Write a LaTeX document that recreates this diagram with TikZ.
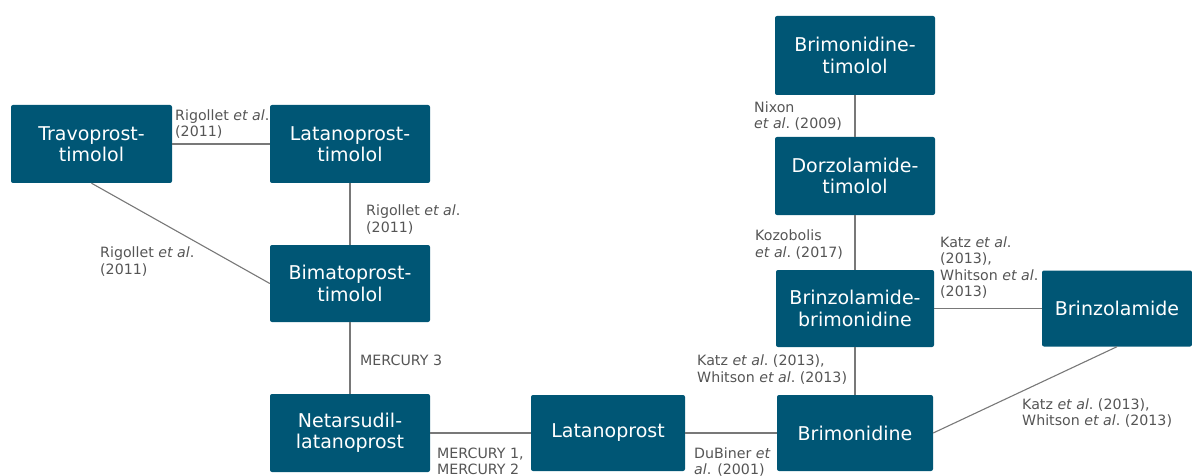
\documentclass[tikz,border=0pt]{standalone}
\usepackage{fontspec}
\setmainfont{DejaVu Sans}
\begin{document}
\definecolor{boxblue}{RGB}{0,86,117}
\definecolor{linkgray}{RGB}{120,120,120}
\definecolor{labgray}{RGB}{85,85,85}
\begin{tikzpicture}[x=1pt,y=-1pt,
  drug/.style={fill=boxblue,draw=none,rounded corners=2pt,text=white,
    align=center,inner sep=0pt,font=\fontsize{19}{21.5}\selectfont},
  link/.style={draw=linkgray,line width=1.1pt},
  study/.style={anchor=base west,inner sep=0pt,align=left,text=labgray,
    font=\fontsize{14.2}{16.4}\selectfont}]
\useasboundingbox (0,0) rectangle (1192,476);
\newcommand{\etal}{\textit{et al}.}
% drug boxes
\node[drug,minimum width=161pt,minimum height=78pt] (trav)  at (91.5,144) {Travoprost-\\timolol};
\node[drug,minimum width=160pt,minimum height=78pt] (latt)  at (350,144) {Latanoprost-\\timolol};
\node[drug,minimum width=160pt,minimum height=77pt] (bimt)  at (350,283.5) {Bimatoprost-\\timolol};
\node[drug,minimum width=160pt,minimum height=78pt] (netl)  at (350,433) {Netarsudil-\\latanoprost};
\node[drug,minimum width=154pt,minimum height=76pt] (lat)   at (608,433) {Latanoprost};
\node[drug,minimum width=156pt,minimum height=76pt] (brim)  at (855,433) {Brimonidine};
\node[drug,minimum width=160pt,minimum height=79pt] (brimt) at (855,55.5) {Brimonidine-\\timolol};
\node[drug,minimum width=160pt,minimum height=78pt] (dorz)  at (855,176) {Dorzolamide-\\timolol};
\node[drug,minimum width=158pt,minimum height=77pt] (brzb)  at (855,308.5) {Brinzolamide-\\brimonidine};
\node[drug,minimum width=150pt,minimum height=76pt] (brz)   at (1117,308.5) {Brinzolamide};
% comparisons
\draw[link] (trav.east) -- (latt.west);
\draw[link] (trav.south) -- (bimt.west);
\draw[link] (latt.south) -- (bimt.north);
\draw[link] (bimt.south) -- (netl.north);
\draw[link] (netl.east) -- (lat.west);
\draw[link] (lat.east) -- (brim.west);
\draw[link] (brim.north) -- (brzb.south);
\draw[link] (brim.east) -- (brz.south);
\draw[link] (brzb.east) -- (brz.west);
\draw[link] (dorz.south) -- (brzb.north);
\draw[link] (brimt.south) -- (dorz.north);
% study labels (placed at the baseline of their last line)
\node[study] (s1) at (175,137) {Rigollet \etal\\(2011)};
\node[study] (s2) at (366,232.3) {Rigollet \etal\\(2011)};
\node[study] (s3) at (100,274) {Rigollet \etal\\(2011)};
\node[study] (s4) at (360,365) {MERCURY 3};
\node[study] (s5) at (437,474.6) {MERCURY 1,\\MERCURY 2};
\node[study] (s6) at (694,474.6) {DuBiner \textit{et}\\\textit{al}. (2001)};
\node[study] (s7) at (697,382.3) {Katz \etal\ (2013),\\Whitson \etal\ (2013)};
\node[study] (s8) at (755,257) {Kozobolis\\\etal\ (2017)};
\node[study] (s9) at (754,128.6) {Nixon\\\etal\ (2009)};
\node[study] (s10) at (940,296.5) {Katz \etal\\(2013),\\Whitson \etal\\(2013)};
\node[study] (s11) at (1022,425.8) {Katz \etal\ (2013),\\Whitson \etal\ (2013)};
\end{tikzpicture}
\end{document}
